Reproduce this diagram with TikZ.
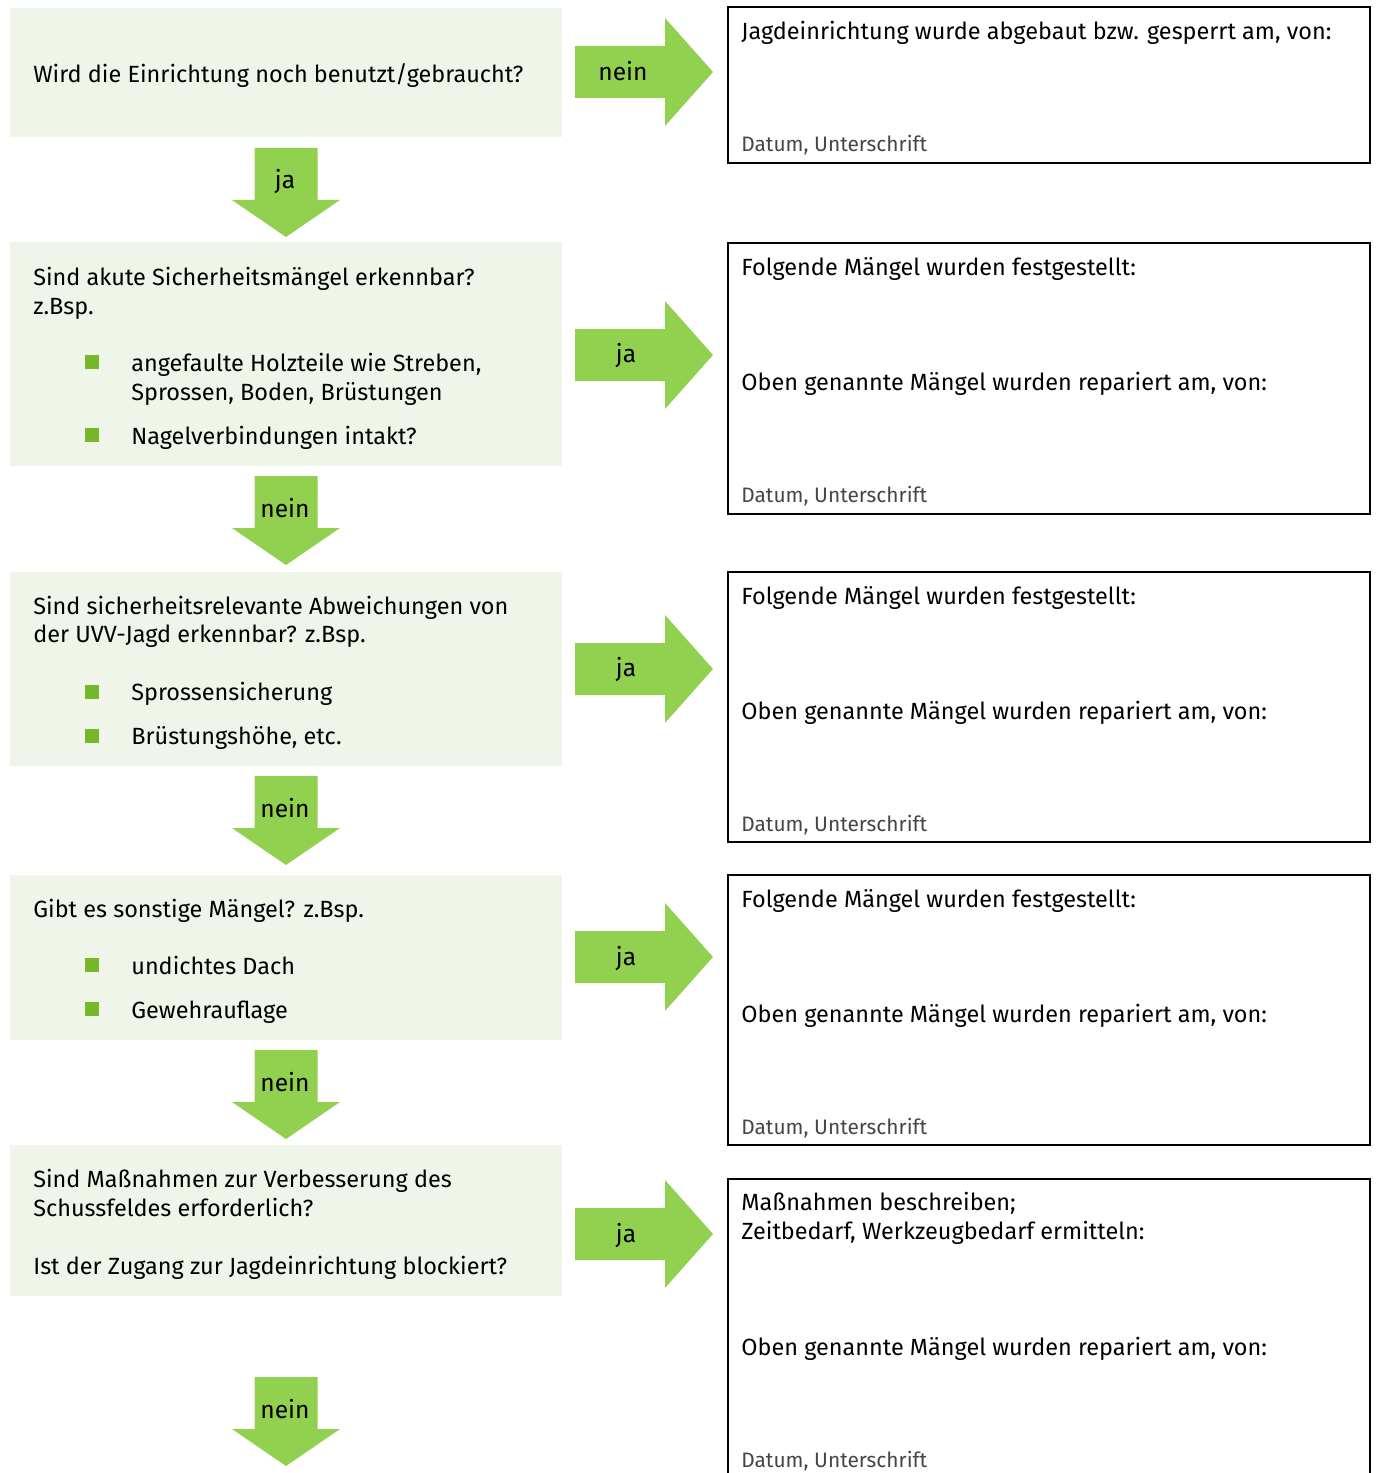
\documentclass[tikz,border=0pt]{standalone}
\usepackage{fontspec}
\setmainfont{Fira Sans}
\usetikzlibrary{fit}
\definecolor{boxgreen}{RGB}{239,245,233}
\definecolor{arrowgreen}{RGB}{146,208,80}
\definecolor{bulletgreen}{RGB}{118,184,42}
\definecolor{datgrey}{RGB}{70,70,70}
\tikzset{
  qbox/.style={fill=boxgreen, inner sep=0pt},
  abox/.style={draw=black, line width=0.8pt, inner sep=0pt},
  txt/.style={anchor=mid west, inner sep=0pt, yshift=-2.2pt, font=\fontsize{13.35}{15}\selectfont},
  small/.style={anchor=mid west, inner sep=0pt, yshift=-2.2pt, text=datgrey, font=\fontsize{11.9}{13}\selectfont},
  lbl/.style={inner sep=0pt, yshift=-0.8pt, font=\fontsize{14}{15}\selectfont},
  bullet/.style={fill=bulletgreen, minimum size=7.8pt, inner sep=0pt},
  rarrow/.pic={\fill[arrowgreen] (0,-26) -- (90,-26) -- (90,-54) -- (138,0) -- (90,54) -- (90,26) -- (0,26) -- cycle;},
  darrow/.pic={\fill[arrowgreen] (-31.5,0) -- (31.5,0) -- (31.5,52) -- (54,52) -- (0,89) -- (-54,52) -- (-31.5,52) -- cycle;}
}
\begin{document}
\begin{tikzpicture}[x=0.02cm, y=-0.02cm]
\path[use as bounding box, clip] (0,0) rectangle (1388,1473);

% Fragen links
\node[qbox, fit={(10,8) (562,137)}] (q1) {};
\node[qbox, fit={(10,242) (562,466)}] (q2) {};
\node[qbox, fit={(10,572) (562,766)}] (q3) {};
\node[qbox, fit={(10,875) (562,1040)}] (q4) {};
\node[qbox, fit={(10,1145) (562,1296)}] (q5) {};

\node[txt] (q1a) at (33,74) {Wird die Einrichtung noch benutzt/gebraucht?};

\node[txt] (q2a) at (33,277) {Sind akute Sicherheitsmängel erkennbar?};
\node[txt] (q2b) at (33,306) {z.Bsp.};
\node[bullet] (b2a) at (92,362) {};
\node[txt] (q2c) at (131,363) {angefaulte Holzteile wie Streben,};
\node[txt] (q2d) at (131,392) {Sprossen, Boden, Brüstungen};
\node[bullet] (b2b) at (92,435) {};
\node[txt] (q2e) at (131,436) {Nagelverbindungen intakt?};

\node[txt] (q3a) at (33,606) {Sind sicherheitsrelevante Abweichungen von};
\node[txt] (q3b) at (33,634) {der UVV-Jagd erkennbar? z.Bsp.};
\node[bullet] (b3a) at (92,692) {};
\node[txt] (q3c) at (131,692) {Sprossensicherung};
\node[bullet] (b3b) at (92,736) {};
\node[txt] (q3d) at (131,736) {Brüstungshöhe, etc.};

\node[txt] (q4a) at (33,909) {Gibt es sonstige Mängel? z.Bsp.};
\node[bullet] (b4a) at (92,965) {};
\node[txt] (q4b) at (131,966) {undichtes Dach};
\node[bullet] (b4b) at (92,1009) {};
\node[txt] (q4c) at (131,1010) {Gewehrauflage};

\node[txt] (q5a) at (33,1179) {Sind Maßnahmen zur Verbesserung des};
\node[txt] (q5b) at (33,1208) {Schussfeldes erforderlich?};
\node[txt] (q5c) at (33,1266) {Ist der Zugang zur Jagdeinrichtung blockiert?};

% Pfeile nach unten
\pic at (286,148) {darrow};
\node[lbl] (d1) at (285,180) {ja};
\pic at (286,476) {darrow};
\node[lbl] (d2) at (285,507) {nein};
\pic at (286,776) {darrow};
\node[lbl] (d3) at (285,807) {nein};
\pic at (286,1050) {darrow};
\node[lbl] (d4) at (285,1081) {nein};
\pic at (286,1377) {darrow};
\node[lbl] (d5) at (285,1408) {nein};

% Pfeile nach rechts
\pic at (575,72) {rarrow};
\node[lbl] (r1) at (623,70) {nein};
\pic at (575,355) {rarrow};
\node[lbl] (r2) at (626,354) {ja};
\pic at (575,669) {rarrow};
\node[lbl] (r3) at (626,668) {ja};
\pic at (575,957) {rarrow};
\node[lbl] (r4) at (626,957) {ja};
\pic at (575,1234) {rarrow};
\node[lbl] (r5) at (626,1234) {ja};

% Formularfelder rechts
\node[abox, fit={(728,7) (1370,163)}] (f1) {};
\node[abox, fit={(728,243) (1370,514)}] (f2) {};
\node[abox, fit={(728,572) (1370,842)}] (f3) {};
\node[abox, fit={(728,875) (1370,1145)}] (f4) {};
\node[abox, fit={(728,1179) (1370,1500)}] (f5) {};

\node[txt] (f1a) at (741,31) {Jagdeinrichtung wurde abgebaut bzw. gesperrt am, von:};
\node[small] (f1b) at (741,143) {Datum, Unterschrift};

\node[txt] (f2a) at (741,267) {Folgende Mängel wurden festgestellt:};
\node[txt] (f2b) at (741,382) {Oben genannte Mängel wurden repariert am, von:};
\node[small] (f2c) at (741,494) {Datum, Unterschrift};

\node[txt] (f3a) at (741,596) {Folgende Mängel wurden festgestellt:};
\node[txt] (f3b) at (741,711) {Oben genannte Mängel wurden repariert am, von:};
\node[small] (f3c) at (741,823) {Datum, Unterschrift};

\node[txt] (f4a) at (741,899) {Folgende Mängel wurden festgestellt:};
\node[txt] (f4b) at (741,1014) {Oben genannte Mängel wurden repariert am, von:};
\node[small] (f4c) at (741,1126) {Datum, Unterschrift};

\node[txt] (f5a) at (741,1202) {Maßnahmen beschreiben;};
\node[txt] (f5b) at (741,1231) {Zeitbedarf, Werkzeugbedarf ermitteln:};
\node[txt] (f5c) at (741,1347) {Oben genannte Mängel wurden repariert am, von:};
\node[small] (f5d) at (741,1459) {Datum, Unterschrift};
\end{tikzpicture}
\end{document}
